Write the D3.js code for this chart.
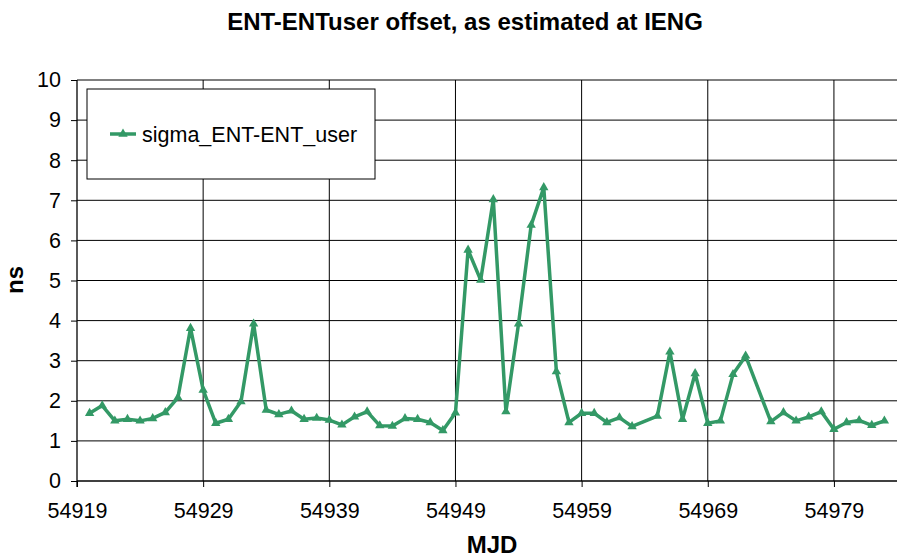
<!DOCTYPE html>
<html>
<head>
<meta charset="utf-8">
<script src="https://cdn.jsdelivr.net/npm/d3@7"></script>
<style>
  body { margin: 0; background: #fff; }
  text { font-family: Arial, "Liberation Sans", sans-serif; }
</style>
</head>
<body>
<div id="chart"></div>
<script>
// MJD days and sigma values (ns)
const mjd = [54920, 54921, 54922, 54923, 54924, 54925, 54926, 54927, 54928, 54929,
             54930, 54931, 54932, 54933, 54934, 54935, 54936, 54937, 54938, 54939,
             54940, 54941, 54942, 54943, 54944, 54945, 54946, 54947, 54948, 54949,
             54950, 54951, 54952, 54953, 54954, 54955, 54956, 54957, 54958, 54959,
             54960, 54961, 54962, 54963, 54965, 54966, 54967, 54968, 54969, 54970,
             54971, 54972, 54974, 54975, 54976, 54977, 54978, 54979, 54980, 54981,
             54982, 54983];
const sigma = [1.69, 1.88, 1.50, 1.54, 1.50, 1.56, 1.71, 2.08, 3.81, 2.27,
               1.44, 1.54, 1.98, 3.92, 1.77, 1.66, 1.75, 1.54, 1.57, 1.52,
               1.40, 1.60, 1.73, 1.38, 1.37, 1.56, 1.54, 1.46, 1.26, 1.70,
               5.76, 5.01, 7.02, 1.73, 3.92, 6.38, 7.32, 2.73, 1.46, 1.69,
               1.69, 1.46, 1.58, 1.36, 1.62, 3.22, 1.54, 2.68, 1.44, 1.50,
               2.66, 3.12, 1.48, 1.71, 1.50, 1.60, 1.73, 1.29, 1.46, 1.51,
               1.39, 1.50];
const xTicks = [54919, 54929, 54939, 54949, 54959, 54969, 54979];
const yTicks = [0, 1, 2, 3, 4, 5, 6, 7, 8, 9, 10];
const seriesName = "sigma_ENT-ENT_user";

const width = 901, height = 558;
const margin = { top: 80, right: 4, bottom: 77, left: 77 };
const green = "#339966";
const tickFont = '21.5px', titleFont = '24px';

const svg = d3.select('#chart').append('svg')
    .attr('width', width)
    .attr('height', height);

const x = d3.scaleLinear().domain([54919, 54984]).range([margin.left, width - margin.right]);
const y = d3.scaleLinear().domain([0, 10]).range([height - margin.bottom, margin.top]);

// grid lines
svg.append('g').selectAll('line.h')
    .data(yTicks.filter(d => d > 0))
    .enter().append('line')
    .attr('x1', x.range()[0]).attr('x2', x.range()[1])
    .attr('y1', d => y(d)).attr('y2', d => y(d))
    .attr('stroke', '#000').attr('stroke-width', 1);

svg.append('g').selectAll('line.v')
    .data(xTicks.slice(1))
    .enter().append('line')
    .attr('x1', d => x(d)).attr('x2', d => x(d))
    .attr('y1', y(0)).attr('y2', y(10))
    .attr('stroke', '#000').attr('stroke-width', 1);

// axes
const yAxis = svg.append('g')
    .attr('transform', `translate(${x.range()[0]},0)`)
    .call(d3.axisLeft(y).tickValues(yTicks).tickSize(6).tickPadding(10).tickFormat(d3.format('d')));
const xAxis = svg.append('g')
    .attr('transform', `translate(0,${y(0)})`)
    .call(d3.axisBottom(x).tickValues(xTicks).tickSize(6).tickPadding(16).tickFormat(d3.format('d')));

[xAxis, yAxis].forEach(a => {
    a.select('.domain').attr('stroke', '#000').attr('stroke-width', 1.3);
    a.selectAll('.tick line').attr('stroke', '#000');
    a.selectAll('text').style('font-size', tickFont).attr('fill', '#000')
        .style('font-family', 'Arial, "Liberation Sans", sans-serif');
});
// straight domain lines, no end caps
xAxis.select('.domain').attr('d', `M${x.range()[0]},0H${x.range()[1]}`);
yAxis.select('.domain').attr('d', `M0,${y(10)}V${y(0) + 6}`);

// series line
const line = d3.line()
    .x((d, i) => x(mjd[i]))
    .y(d => y(d));

svg.append('path')
    .datum(sigma)
    .attr('fill', 'none')
    .attr('stroke', green)
    .attr('stroke-width', 3.5)
    .attr('stroke-linejoin', 'round')
    .attr('d', line);

const tri = d3.symbol().type(d3.symbolTriangle).size(38);
svg.append('g').selectAll('path')
    .data(sigma)
    .enter().append('path')
    .attr('d', tri)
    .attr('transform', (d, i) => `translate(${x(mjd[i])},${y(d)})`)
    .attr('fill', green);

// titles
svg.append('text')
    .attr('x', 465).attr('y', 30)
    .attr('text-anchor', 'middle')
    .style('font-size', titleFont).style('font-weight', 'bold')
    .text('ENT-ENTuser offset, as estimated at IENG');

svg.append('text')
    .attr('x', 492).attr('y', 553)
    .attr('text-anchor', 'middle')
    .style('font-size', titleFont).style('font-weight', 'bold')
    .text('MJD');

svg.append('text')
    .attr('transform', 'translate(23,280) rotate(-90)')
    .attr('text-anchor', 'middle')
    .style('font-size', titleFont).style('font-weight', 'bold')
    .text('ns');

// legend
const legend = svg.append('g').attr('transform', 'translate(87,89)');
legend.append('rect')
    .attr('width', 288).attr('height', 90)
    .attr('fill', '#fff').attr('stroke', '#000').attr('stroke-width', 1);
legend.append('line')
    .attr('x1', 23).attr('x2', 49).attr('y1', 45).attr('y2', 45)
    .attr('stroke', green).attr('stroke-width', 3.5);
legend.append('path')
    .attr('d', tri)
    .attr('transform', 'translate(36,45)')
    .attr('fill', green);
legend.append('text')
    .attr('x', 55).attr('y', 53)
    .style('font-size', tickFont)
    .text(seriesName);
</script>
</body>
</html>
